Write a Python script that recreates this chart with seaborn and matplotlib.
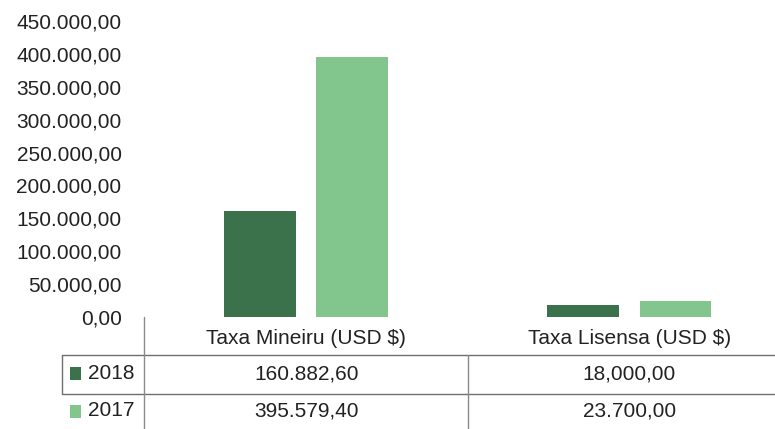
import matplotlib
matplotlib.use("Agg")
import matplotlib.pyplot as plt
import matplotlib.transforms as mtransforms
from matplotlib.lines import Line2D
from matplotlib.patches import Rectangle
import seaborn as sns
import pandas as pd

# Revenue by fee type, two years
categories = ["Taxa Mineiru (USD $)", "Taxa Lisensa (USD $)"]
years = ["2018", "2017"]
values_2018 = [160882.60, 18000.00]
values_2017 = [395579.40, 23700.00]
table_2018 = ["160.882,60", "18,000,00"]
table_2017 = ["395.579,40", "23.700,00"]
y_ticks = [0, 50000, 100000, 150000, 200000, 250000, 300000, 350000, 400000, 450000]
y_tick_labels = ["0,00", "50.000,00", "100.000,00", "150.000,00", "200.000,00",
                 "250.000,00", "300.000,00", "350.000,00", "400.000,00", "450.000,00"]
colors = {"2018": "#3b714b", "2017": "#82c68e"}

sns.set_theme(style="white")
plt.rcParams["font.family"] = ["Liberation Sans", "DejaVu Sans"]

W, H = 775, 429
fig = plt.figure(figsize=(W / 100, H / 100), dpi=100)
fig.patch.set_facecolor("white")


def fx(px):
    return px / W


def fy(py):
    return 1 - py / H


# plot area: zero line at y=317 px, top at 450k
left, right, zero_y, top_y = 144.5, 791, 317, 21
ax = fig.add_axes([fx(left), fy(zero_y), (right - left) / W, (zero_y - top_y) / H])

df = pd.DataFrame({
    "categoria": categories * 2,
    "ano": [years[0]] * len(categories) + [years[1]] * len(categories),
    "valor": values_2018 + values_2017,
})

sns.barplot(data=df, x="categoria", y="valor", hue="ano", hue_order=years,
            order=categories, palette=colors, saturation=1, width=0.57, gap=0.22,
            linewidth=0, legend=False, ax=ax)

ax.set_xlim(-0.5, 1.5)
ax.set_ylim(0, 450000)
ax.set_yticks(y_ticks)
ax.set_yticklabels(y_tick_labels)
ax.set_xlabel("")
ax.set_ylabel("")
for s in ax.spines.values():
    s.set_visible(False)
ax.tick_params(axis="y", length=0, pad=16.5, labelsize=15, labelcolor="#222222")
ax.tick_params(axis="x", length=0, pad=9, labelsize=15, labelcolor="#222222")
ax.set_facecolor("white")
ax.grid(False)

# data table below the category axis
line_color = "#6e6e6e"
blend = mtransforms.blended_transform_factory(ax.transData, fig.transFigure)
row1_top, row2_top, bottom = 354.5, 393.5, 429
fig.add_artist(Line2D([fx(62), 1.0], [fy(row1_top)] * 2, color=line_color, lw=1, transform=fig.transFigure))
fig.add_artist(Line2D([fx(62), 1.0], [fy(row2_top)] * 2, color=line_color, lw=1, transform=fig.transFigure))
fig.add_artist(Line2D([fx(62), fx(62)], [fy(row1_top), fy(row2_top)], color=line_color, lw=1, transform=fig.transFigure))
fig.add_artist(Line2D([-0.5, -0.5], [fy(zero_y), fy(bottom)], color="#8a8a8a", lw=1, transform=blend))
fig.add_artist(Line2D([0.5, 0.5], [fy(row1_top), fy(bottom)], color="#8a8a8a", lw=1, transform=blend))

row_centers = [373.5, 411]
for yr, yc, labels in zip(years, row_centers, [table_2018, table_2017]):
    fig.add_artist(Rectangle((fx(70), fy(yc + 6.5)), 11 / W, 13 / H,
                             facecolor=colors[yr], edgecolor="none", transform=fig.transFigure))
    fig.text(fx(88), fy(yc), yr, ha="left", va="center", fontsize=15, color="#222222")
    for i, lab in enumerate(labels):
        ax.text(i, fy(yc), lab, ha="center", va="center", fontsize=15,
                color="#222222", transform=blend, clip_on=False)

fig.savefig("out.png", dpi=100, facecolor="white")
